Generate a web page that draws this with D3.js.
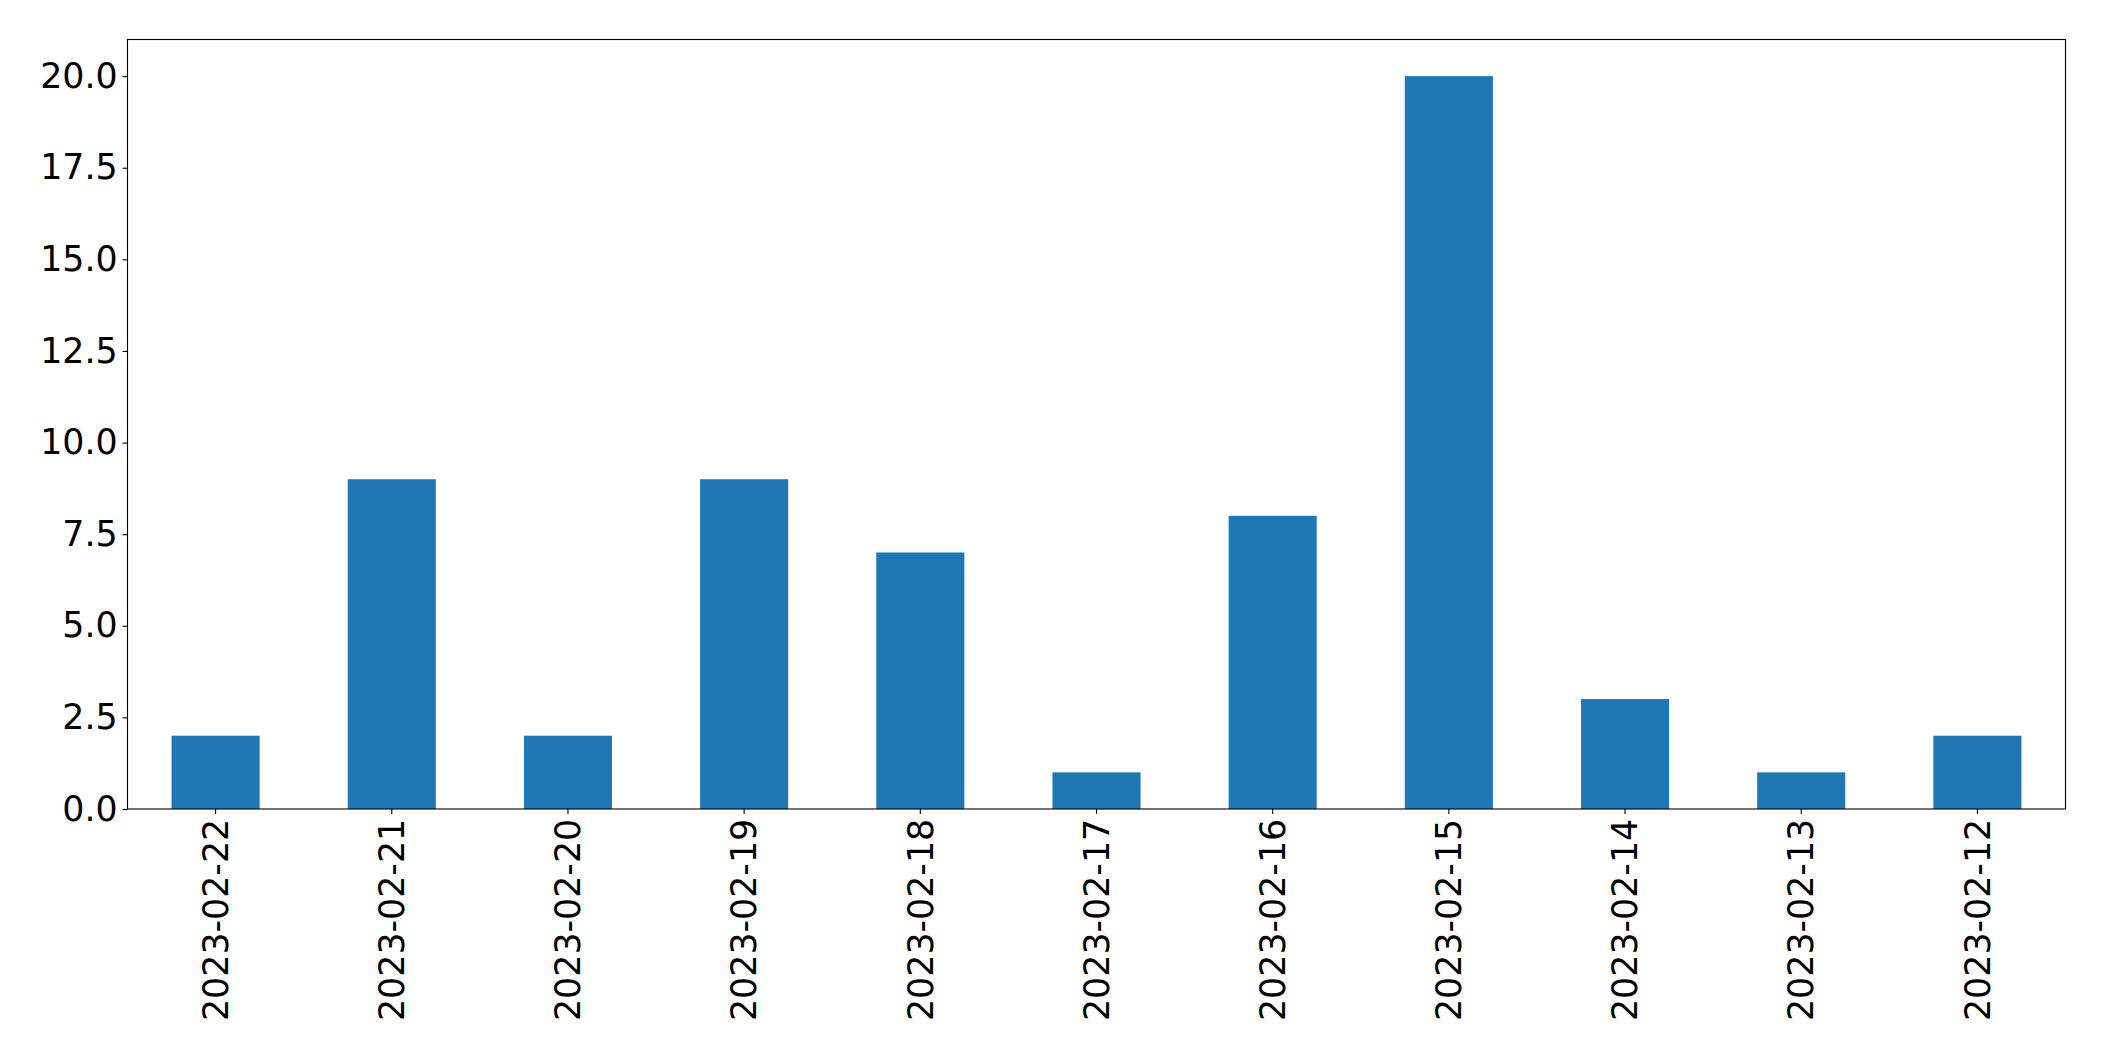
<!DOCTYPE html>
<html>
<head>
<meta charset="utf-8">
<script src="https://cdn.jsdelivr.net/npm/d3@7"></script>
<style>
html,body{margin:0;padding:0;background:#fff;}
svg{display:block;}
text{font-family:"DejaVu Sans",sans-serif;}
</style>
</head>
<body>
<svg id="chart" width="2104" height="1061"></svg>
<script>
const categories = ["2023-02-22","2023-02-21","2023-02-20","2023-02-19","2023-02-18","2023-02-17","2023-02-16","2023-02-15","2023-02-14","2023-02-13","2023-02-12"];
const values = [2,9,2,9,7,1,8,20,3,1,2];
const yTicks = [0,2.5,5,7.5,10,12.5,15,17.5,20];

(function(){
const svg = d3.select("#chart");
const mLeft = 127.5, mRight = 2065.5, mTop = 39.5, mBottom = 809;
const fontSize = 34.8;
const tickLen = 4.9, tickPad = 4.9;

const x = d3.scaleBand().domain(categories).range([mLeft, mRight]).paddingInner(0.5).paddingOuter(0.25);
const y = d3.scaleLinear().domain([0, 21]).range([mBottom, mTop]);

svg.append("g").selectAll("rect").data(values).join("rect")
  .attr("x", (d,i) => x(categories[i]))
  .attr("width", x.bandwidth())
  .attr("y", d => y(d))
  .attr("height", d => y(0) - y(d))
  .attr("fill", "#1f77b4");

svg.append("rect").attr("x", mLeft).attr("y", mTop).attr("width", mRight-mLeft).attr("height", mBottom-mTop)
  .attr("fill","none").attr("stroke","#000").attr("stroke-width",1.1);

const yAxis = d3.axisLeft(y).tickValues(yTicks).tickFormat(d3.format(".1f")).tickSize(tickLen).tickPadding(tickPad);
const gy = svg.append("g").attr("transform", `translate(${mLeft},0)`).call(yAxis);
gy.select(".domain").remove();
gy.selectAll(".tick line").attr("stroke","#000").attr("stroke-width",1.1);
gy.selectAll(".tick text").attr("font-size", fontSize).attr("fill","#000").attr("font-family","DejaVu Sans");

const xAxis = d3.axisBottom(x).tickSize(tickLen).tickPadding(tickPad);
const gx = svg.append("g").attr("transform", `translate(0,${mBottom})`).call(xAxis);
gx.select(".domain").remove();
gx.selectAll(".tick line").attr("stroke","#000").attr("stroke-width",1.1);
gx.selectAll(".tick text")
  .attr("font-size", fontSize).attr("fill","#000").attr("font-family","DejaVu Sans")
  .attr("transform", "rotate(-90)")
  .attr("text-anchor","end")
  .attr("x", -(tickLen+tickPad))
  .attr("y", 0)
  .attr("dy", "0.35em");
})();
</script>
</body>
</html>
